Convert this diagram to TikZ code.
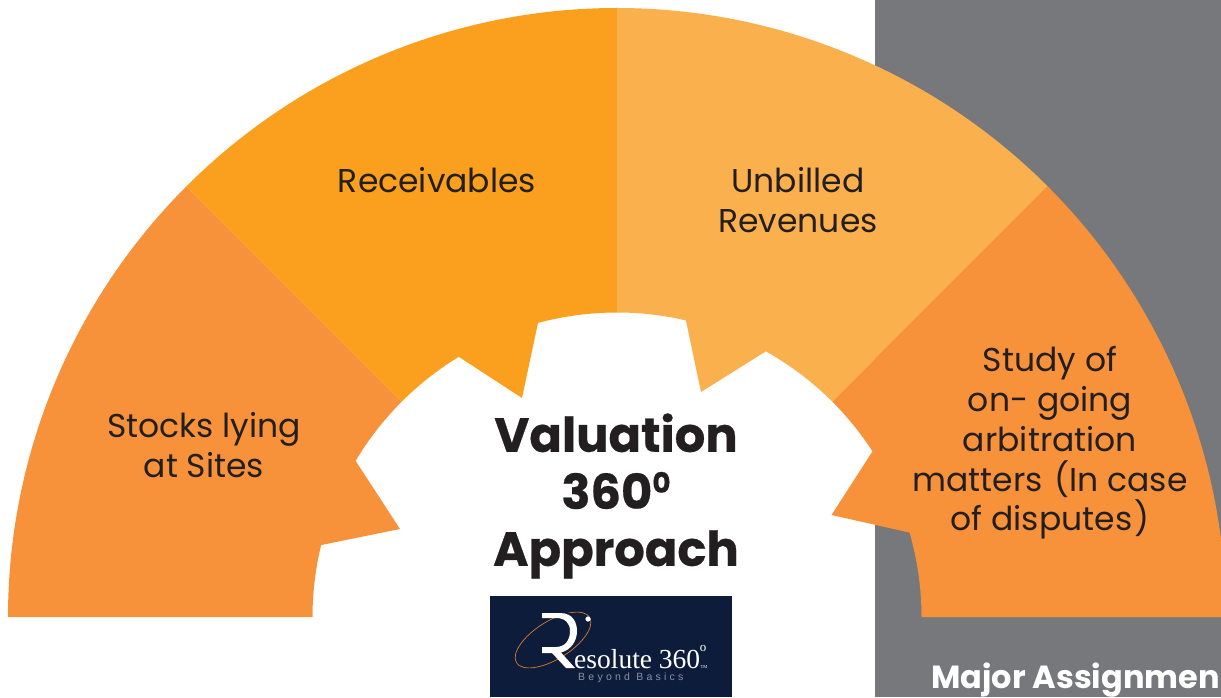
\documentclass[tikz,border=0pt]{standalone}
\usepackage{fontspec}
\setmainfont{Poppins}
\newfontfamily\popbold{Poppins}[BoldFont=*,UprightFont=* Bold]
\newfontfamily\popheavy{Poppins}[UprightFont=* Bold,FakeBold=0.5]
\newfontfamily\logoserif{Liberation Serif}
\newfontfamily\logosans[LetterSpace=31]{Liberation Sans}
\usetikzlibrary{calc}
\definecolor{orangeA}{HTML}{F7923A}
\definecolor{orangeB}{HTML}{FAA01E}
\definecolor{orangeC}{HTML}{FBB04E}
\definecolor{greyBack}{HTML}{77787B}
\definecolor{navyLogo}{HTML}{0E1C3C}
\definecolor{inkText}{HTML}{231F20}
\definecolor{logoOrange}{HTML}{D9792B}
\definecolor{logoGrey}{HTML}{8C90A0}
\tikzset{
  label text/.style={font=\fontsize{33}{39.8}\selectfont,text=inkText,align=center,inner sep=0pt},
  title text/.style={font=\fontsize{48}{57}\selectfont\popheavy,text=inkText,align=center,inner sep=0pt},
  sector/.style={draw=none}
}
\begin{document}
\begin{tikzpicture}[x=1pt,y=1pt]
\useasboundingbox (0,0) rectangle (1221,697);
\clip (0,0) rectangle (1221,697);
\coordinate (c) at (617,80);
\def\Ro{609}\def\Ri{304.5}
% grey panel
\fill[greyBack] (875,0) rectangle (1221,697);
% left sector
\fill[orangeA,sector] (8,80) arc[start angle=180,end angle=135,radius=\Ro]
  -- ($(c)+(135:\Ri)$) arc[start angle=135,end angle=149.14,radius=\Ri]
  -- (400,168) -- ($(c)+(166.33:\Ri)$) arc[start angle=166.33,end angle=180,radius=\Ri] -- cycle;
% receivables
\fill[orangeB,sector] ($(c)+(135:\Ro)$) arc[start angle=135,end angle=90,radius=\Ro]
  -- ($(c)+(90:\Ri)$) arc[start angle=90,end angle=105.04,radius=\Ri]
  -- (522,299) -- ($(c)+(121.3:\Ri)$) arc[start angle=121.3,end angle=135,radius=\Ri] -- cycle;
% unbilled
\fill[orangeC,sector] ($(c)+(90:\Ro)$) arc[start angle=90,end angle=45,radius=\Ro]
  -- ($(c)+(45:\Ri)$) arc[start angle=45,end angle=60.74,radius=\Ri]
  -- (701,305) -- ($(c)+(76.92:\Ri)$) arc[start angle=76.92,end angle=90,radius=\Ri] -- cycle;
% right sector
\fill[orangeA,sector] ($(c)+(45:\Ro)$) arc[start angle=45,end angle=0,radius=\Ro]
  -- ($(c)+(0:\Ri)$) arc[start angle=0,end angle=16.1,radius=\Ri]
  -- (831.5,182) -- ($(c)+(32.96:\Ri)$) arc[start angle=32.96,end angle=45,radius=\Ri] -- cycle;
% labels
\node[label text] (stocks) at (204,252) {Stocks lying\\at Sites};
\node[label text] (recv) at (437,517) {Receivables};
\node[label text] (unb) at (798,497) {Unbilled\\Revenues};
\node[label text] (study) at (1050,254) {Study of\\on- going\\arbitration\\matters \kern3pt(In case\\of disputes\kern2pt)};
\node[title text] (title) at (616,201) {Valuation\\360\raisebox{0.6ex}{\fontsize{28}{28}\selectfont 0}\\Approach};
\node[anchor=base west,inner sep=0pt,text=white,font=\fontsize{32}{36}\selectfont\popbold] (major) at (931,9) {Major Assignmen};
% logo
\fill[navyLogo] (490,0) rectangle (732,101);
\draw[logoOrange,line width=0.7pt,rotate around={32:(553,57)}] (553,57) ellipse[x radius=43,y radius=19];
\fill[navyLogo] (560,84) rectangle (578,72);
\fill[white] (588,78) circle[radius=2.6];
% stylised R
\fill[white] (542,84) -- (560,84) .. controls (574,84) and (577,73) .. (577,66)
  .. controls (577,56) and (571,47) .. (561,44.5) -- (575,29) -- (566,29) -- (552,44) -- (542,44) -- (542,50)
  -- (556,50) .. controls (566,50) and (570,58) .. (570,66) .. controls (570,74) and (565,79) .. (556,79) -- (542,79) -- cycle;
\node[anchor=base west,inner sep=0pt,text=white,font=\fontsize{27.5}{28}\selectfont\logoserif] (res) at (574,29) {esolute 360};
\node[inner sep=0pt,text=white,font=\fontsize{13}{13}\selectfont\logoserif] (deg) at (703,49) {o};
\node[inner sep=0pt,text=white,font=\fontsize{4.5}{5}\selectfont\logoserif] (tm) at (704,30) {TM};
\node[anchor=base west,inner sep=0pt,text=logoGrey,font=\fontsize{10.5}{11}\selectfont\logosans] (bey) at (578,17) {Beyond Basics};
\end{tikzpicture}
\end{document}
